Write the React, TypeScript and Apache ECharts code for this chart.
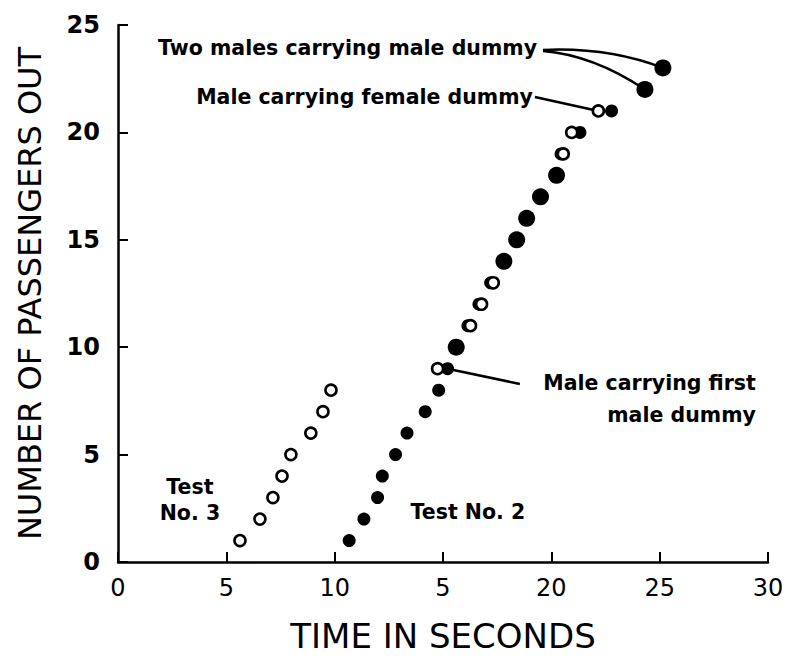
import React, { useEffect, useRef } from "react";
import * as echarts from "echarts";

// Test No. 2 (filled circles): passengers out vs. time in seconds
const test2Counts = [1, 2, 3, 4, 5, 6, 7, 8, 9, 10, 11, 12, 13, 14, 15, 16, 17, 18, 19, 20, 21, 22, 23];
const test2Times = [10.67, 11.35, 11.98, 12.2, 12.81, 13.34, 14.18, 14.8, 15.21, 15.61, 16.15, 16.66, 17.2, 17.81, 18.4, 18.86, 19.5, 20.24, 20.45, 21.32, 22.78, 24.32, 25.15];

// Test No. 3 (open circles) — points visible in the figure
const test3Counts = [1, 2, 3, 4, 5, 6, 7, 8, 9, 11, 12, 13, 19, 20, 21];
const test3Times = [5.63, 6.55, 7.15, 7.57, 7.98, 8.9, 9.46, 9.83, 14.75, 16.27, 16.78, 17.32, 20.55, 20.94, 22.17];

const xTickLabels = ["0", "5", "10", "5", "20", "25", "30"];
const yTickLabels = ["0", "5", "10", "15", "20", "25"];

const FONT = "DejaVu Sans";

export default function App() {
  const ref = useRef<HTMLDivElement>(null);

  useEffect(() => {
    if (!ref.current) return;
    const chart = echarts.init(ref.current, null, { renderer: "svg" });

    const test2Data = test2Counts.map((c, i) => [test2Times[i], c]);
    const test3Data = test3Counts.map((c, i) => [test3Times[i], c]);

    chart.setOption({
      animation: false,
      backgroundColor: "#fff",
      grid: { left: 118, right: 29, top: 25, bottom: 96, containLabel: false },
      xAxis: {
        type: "value",
        min: 0,
        max: 30,
        interval: 5,
        name: "TIME IN SECONDS",
        nameLocation: "middle",
        nameGap: 57,
        nameTextStyle: { fontFamily: FONT, fontSize: 34, color: "#000" },
        axisLine: { onZero: false, lineStyle: { color: "#000", width: 2.5 } },
        axisTick: { inside: true, length: 10, lineStyle: { color: "#000", width: 2 } },
        axisLabel: {
          fontFamily: FONT,
          fontSize: 24,
          color: "#000",
          margin: 14,
          formatter: (v: number) => xTickLabels[Math.round(v / 5)] ?? String(v),
        },
        splitLine: { show: false },
      },
      yAxis: {
        type: "value",
        min: 0,
        max: 25,
        interval: 5,
        name: "NUMBER OF PASSENGERS OUT",
        nameLocation: "middle",
        nameGap: 72,
        nameTextStyle: { fontFamily: FONT, fontSize: 32, color: "#000" },
        axisLine: { show: true, onZero: false, lineStyle: { color: "#000", width: 2.5 } },
        axisTick: { show: true, inside: true, length: 10, lineStyle: { color: "#000", width: 2 } },
        axisLabel: {
          fontFamily: FONT,
          fontSize: 24,
          fontWeight: "bold",
          color: "#000",
          margin: 18,
          formatter: (v: number) => yTickLabels[Math.round(v / 5)] ?? String(v),
        },
        splitLine: { show: false },
      },
      series: [
        {
          name: "Test No. 2",
          type: "scatter",
          data: test2Data,
          z: 3,
          symbol: "circle",
          symbolSize: (v: number[]) => (v[1] >= 10 && test3Counts.indexOf(v[1]) < 0 ? 17 : 13),
          itemStyle: { color: "#000", opacity: 1 },
        },
        {
          name: "Test No. 3",
          type: "scatter",
          data: test3Data,
          z: 4,
          symbol: "circle",
          symbolSize: 11,
          itemStyle: { color: "#fff", borderColor: "#000", borderWidth: 2.6, opacity: 1 },
        },
      ],
    });

    const px = (x: number, y: number) => chart.convertToPixel({ gridIndex: 0 }, [x, y]) as number[];
    const textStyle = (text: string, extra: any = {}) => ({
      text,
      fontFamily: FONT,
      fontSize: 20.5,
      fontWeight: "bold",
      fill: "#000",
      ...extra,
    });

    const tTwo = px(19.34, 23.93);
    const tFemale = px(19.15, 21.65);
    const tFirst = px(29.44, 7.59);
    const tTest3 = px(3.32, 2.89);
    const tTest2 = px(16.15, 2.34);

    const p23 = px(test2Times[22], test2Counts[22]);
    const p22 = px(test2Times[21], test2Counts[21]);
    const p21open = px(test3Times[14], test3Counts[14]);
    const p9 = px(test2Times[8], test2Counts[8]);

    const s1 = [tTwo[0] + 6, tTwo[1] + 2];
    const s2 = [tTwo[0] + 14, tTwo[1] + 5];

    chart.setOption({
      graphic: [
        { type: "text", x: tTwo[0], y: tTwo[1], style: textStyle("Two males carrying male dummy", { align: "right", verticalAlign: "middle" }) },
        { type: "text", x: tFemale[0], y: tFemale[1], style: textStyle("Male carrying female dummy", { align: "right", verticalAlign: "middle" }) },
        { type: "text", x: tFirst[0], y: tFirst[1], style: textStyle("Male carrying first\nmale dummy", { align: "right", verticalAlign: "middle", lineHeight: 32 }) },
        { type: "text", x: tTest3[0], y: tTest3[1], style: textStyle("Test\nNo. 3", { align: "center", verticalAlign: "middle", lineHeight: 26 }) },
        { type: "text", x: tTest2[0], y: tTest2[1], style: textStyle("Test No. 2", { align: "center", verticalAlign: "middle" }) },
        {
          type: "bezierCurve",
          shape: { x1: s1[0], y1: s1[1], x2: p23[0], y2: p23[1], cpx1: (s1[0] + p23[0]) / 2 + 5, cpy1: s1[1] - 3 },
          style: { stroke: "#000", lineWidth: 2.5, fill: "none" },
        },
        {
          type: "bezierCurve",
          shape: { x1: s2[0] - 8, y1: s2[1] - 2, x2: p22[0], y2: p22[1], cpx1: (s2[0] + p22[0]) / 2 - 5, cpy1: s2[1] + 2 },
          style: { stroke: "#000", lineWidth: 2.5, fill: "none" },
        },
        {
          type: "line",
          shape: { x1: tFemale[0] + 2, y1: tFemale[1], x2: p21open[0], y2: p21open[1] },
          style: { stroke: "#000", lineWidth: 2.5 },
        },
        {
          type: "line",
          shape: { x1: p9[0], y1: p9[1], x2: tFirst[0] - 236, y2: tFirst[1] - 15 },
          style: { stroke: "#000", lineWidth: 2.5 },
        },
      ],
    });

    return () => chart.dispose();
  }, []);

  return (
    <div
      ref={ref}
      style={{ position: "fixed", left: 0, top: 0, width: 797, height: 658, background: "#fff" }}
    />
  );
}
